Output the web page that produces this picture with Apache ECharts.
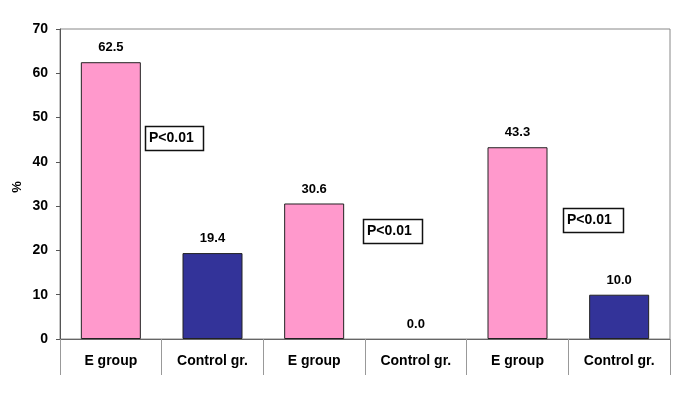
<!DOCTYPE html>
<html><head><meta charset="utf-8">
<script src="https://cdn.jsdelivr.net/npm/echarts@6/dist/echarts.min.js"></script>
<style>html,body{margin:0;padding:0;background:#fff}#c{width:683px;height:393px}</style>
</head><body><div id="c"></div>
<script>
var categories = ['E group','Control gr.','E group','Control gr.','E group','Control gr.'];
var values = [62.5, 19.4, 30.6, 0.0, 43.3, 10.0];
var groupColors = ['#FF99CC','#333399'];
var yTicks = {min:0, max:70, interval:10};
var pNotes = ['P<0.01','P<0.01','P<0.01'];

var chart = echarts.init(document.getElementById('c'));
var font = 'Liberation Sans, Arial, sans-serif';
var boxes = [[145,126,58,24],[363,219,59,24],[563,208,60,24]];
var graphics = [];
boxes.forEach(function(b,i){
  graphics.push({type:'rect', shape:{x:b[0]+0.5,y:b[1]+0.5,width:b[2],height:b[3]}, style:{fill:'#fff',stroke:'#111',lineWidth:1.5}, z:10});
  graphics.push({type:'text', x:b[0]+4, y:b[1]+b[3]/2+0.5, style:{text:pNotes[i], fill:'#000', font:'bold 14px '+font, textVerticalAlign:'middle', verticalAlign:'middle'}, z:11});
});
graphics.push({type:'text', x:17, y:187, rotation:Math.PI/2, style:{text:'%', fill:'#000', font:'bold 13px '+font, textAlign:'center', align:'center', verticalAlign:'middle', textVerticalAlign:'middle'}});
var seriesData = values.map(function(v){ return v === 0 ? {value:v, itemStyle:{borderWidth:0}} : v; });
chart.setOption({
  animation:false,
  grid:{left:60,right:13,top:29,bottom:54,show:true,borderColor:'#888',borderWidth:1},
  xAxis:{type:'category',data:categories,
    axisLine:{lineStyle:{color:'#666'}},
    axisTick:{show:true,interval:0,length:36,lineStyle:{color:'#999'}},
    axisLabel:{interval:0,margin:15,color:'#000',fontWeight:'bold',fontSize:14,fontFamily:font}},
  yAxis:{type:'value',min:yTicks.min,max:yTicks.max,interval:yTicks.interval,
    axisLine:{show:true,lineStyle:{color:'#555'}},
    axisTick:{show:true,length:4,lineStyle:{color:'#555'}},
    splitLine:{show:false},
    axisLabel:{margin:12,color:'#000',fontWeight:'bold',fontSize:14,fontFamily:font}},
  series:[{type:'bar',data:seriesData,barWidth:60,
    itemStyle:{color:function(p){return groupColors[p.dataIndex%2];},borderColor:'#222',borderWidth:1},
    label:{show:true,position:'top',distance:8,color:'#000',fontWeight:'bold',fontSize:13,fontFamily:font,
      formatter:function(p){return Number(p.value).toFixed(1);}}}],
  graphic:graphics
});
</script></body></html>
